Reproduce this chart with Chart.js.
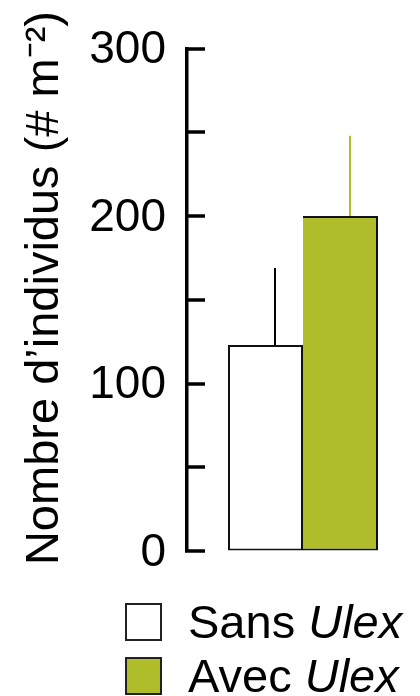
<!DOCTYPE html>
<html lang="fr">
<head>
  <meta charset="UTF-8">
  <title>Nombre d'individus</title>
  <script src="https://cdn.jsdelivr.net/npm/chart.js"></script>
  <style>
    html, body {
      margin: 0;
      padding: 0;
      background: #fff;
      font-family: "Liberation Sans", Arial, sans-serif;
    }
    .wrap {
      position: relative;
      width: 420px;
      height: 696px;
    }
    #chart {
      position: absolute;
      left: 0;
      top: 0;
    }
    .legend {
      position: absolute;
      left: 125px;
      top: 595px;
    }
    .legend-row {
      display: flex;
      align-items: center;
      height: 54px;
    }
    .swatch {
      width: 33px;
      height: 34px;
      border: 2px solid #222;
      margin-right: 26px;
    }
    .legend-text {
      font-size: 47px;
      line-height: 54px;
      color: #000;
      white-space: nowrap;
    }
  </style>
</head>
<body>
  <div class="wrap">
    <canvas id="chart" width="420" height="600"></canvas>
    <div class="legend" id="legend"></div>
  </div>

  <script>
    // Data
    const categories = [''];
    const seriesNames = ['Sans Ulex', 'Avec Ulex'];
    const means = [123, 200];
    const errorsUp = [46, 48];
    const fillColors = ['#ffffff', '#aebd29'];
    const errorColors = ['#000000', '#aebd29'];
    const yTicks = [0, 50, 100, 150, 200, 250, 300];

    // error bars (upper only), drawn through the y scale
    const errorBars = {
      id: 'errorBars',
      afterDatasetsDraw(chart) {
        const ctx = chart.ctx;
        const y = chart.scales.y;
        ctx.save();
        ctx.lineWidth = 2;
        chart.data.datasets.forEach((ds, i) => {
          const bar = chart.getDatasetMeta(i).data[0];
          const x = Math.round(bar.x + bar.width * 0.12);
          ctx.strokeStyle = errorColors[i];
          ctx.beginPath();
          ctx.moveTo(x, y.getPixelForValue(means[i]));
          ctx.lineTo(x, y.getPixelForValue(means[i] + errorsUp[i]));
          ctx.stroke();
        });
        ctx.restore();
      }
    };

    // tick marks pointing into the plot
    const innerTicks = {
      id: 'innerTicks',
      afterDraw(chart) {
        const ctx = chart.ctx;
        const y = chart.scales.y;
        const left = chart.chartArea.left;
        ctx.save();
        ctx.strokeStyle = '#000';
        ctx.lineWidth = 3.5;
        yTicks.forEach(v => {
          const py = Math.round(y.getPixelForValue(v));
          ctx.beginPath();
          ctx.moveTo(left - 2, py);
          ctx.lineTo(left + 18, py);
          ctx.stroke();
        });
        ctx.restore();
      }
    };

    const chart = new Chart(document.getElementById('chart'), {
      type: 'bar',
      data: {
        labels: categories,
        datasets: seriesNames.map((name, i) => ({
          label: name,
          data: [means[i]],
          backgroundColor: fillColors[i],
          borderColor: '#111',
          borderWidth: i === 0 ? 2 : { top: 2, right: 2, bottom: 2, left: 0 },
          borderSkipped: false,
          barPercentage: 1,
          categoryPercentage: 150 / 232
        }))
      },
      options: {
        responsive: false,
        animation: false,
        layout: {
          padding: { top: 44, bottom: 49, left: 0, right: 1 }
        },
        plugins: {
          legend: { display: false },
          tooltip: { enabled: false }
        },
        scales: {
          x: {
            display: false
          },
          y: {
            min: 0,
            max: 300,
            afterBuildTicks(scale) {
              scale.ticks = yTicks.map(v => ({ value: v }));
            },
            afterFit(scale) {
              scale.width = 187;
            },
            border: { display: true, color: '#000', width: 3.5 },
            grid: { drawOnChartArea: false, drawTicks: false },
            ticks: {
              padding: 21,
              labelOffset: 2,
              color: '#000',
              font: { family: '"Liberation Sans", Arial, sans-serif', size: 46 },
              callback: v => (v % 100 === 0 ? v : '')
            },
            title: {
              display: true,
              text: '\u2002Nombre d\u2019individus (# m\u207B\u00B2)',
              color: '#000',
              padding: { top: 17, bottom: 0 },
              font: { family: '"Liberation Sans", Arial, sans-serif', size: 47 }
            }
          }
        }
      },
      plugins: [errorBars, innerTicks]
    });

    // legend built from the datasets (genus name in italics)
    const legendEl = document.getElementById('legend');
    chart.data.datasets.forEach(ds => {
      const row = document.createElement('div');
      row.className = 'legend-row';
      const sw = document.createElement('div');
      sw.className = 'swatch';
      sw.style.background = ds.backgroundColor;
      const txt = document.createElement('div');
      txt.className = 'legend-text';
      txt.innerHTML = ds.label.replace('Ulex', '<i>Ulex</i>');
      row.appendChild(sw);
      row.appendChild(txt);
      legendEl.appendChild(row);
    });
  </script>
</body>
</html>
